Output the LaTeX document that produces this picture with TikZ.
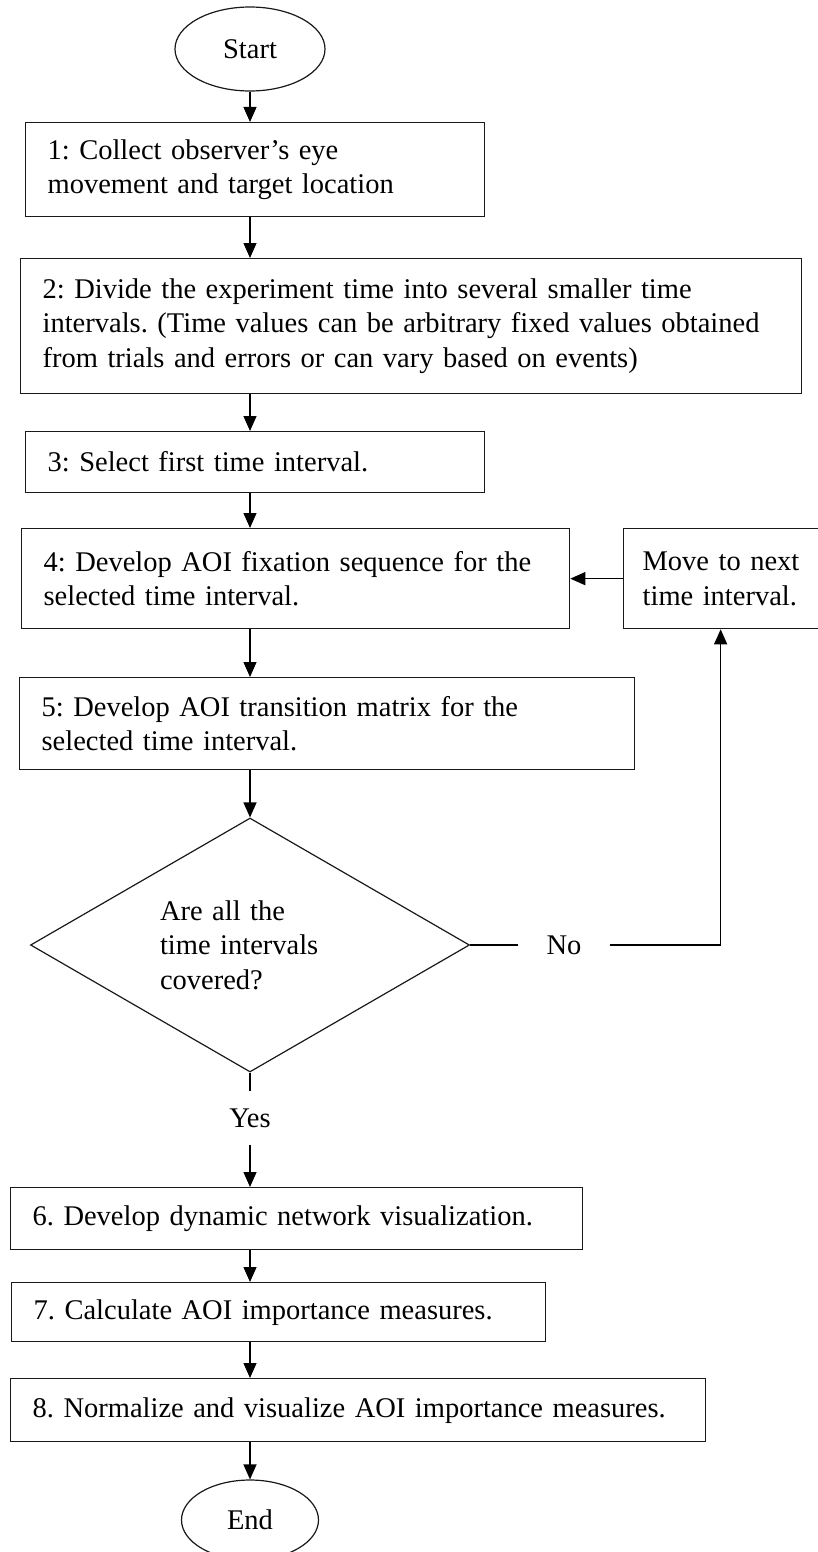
\documentclass[tikz,border=0pt]{standalone}
\usepackage{fontspec}
\setmainfont{Liberation Serif}
\usetikzlibrary{arrows.meta, shapes.geometric}
\tikzset{
  stepbox/.style = {draw=black!90, line width=1.3pt, align=left, inner xsep=22pt,
                    inner ysep=0pt, anchor=north west},
  term/.style    = {draw=black!90, line width=1.2pt, ellipse, inner sep=0pt},
  decide/.style  = {draw=black!90, line width=1.2pt, diamond, aspect=1.73, inner sep=0pt,
                    align=left, text width=180pt, minimum width=439pt, minimum height=254pt},
  arr/.style     = {-{Triangle[length=15pt, width=13pt]}, line width=1.2pt},
  lab/.style     = {inner xsep=28pt, inner ysep=17pt},
}
\frenchspacing
\hyphenpenalty=10000
\exhyphenpenalty=10000

\begin{document}
\begin{tikzpicture}[x=1pt, y=-1pt, font=\fontsize{28.5}{34.5}\selectfont]
  \useasboundingbox (0,0) rectangle (817,1552);

  \node[term, minimum width=150pt, minimum height=84pt] (start) at (250,49) {Start};
  \node[stepbox, text width=415pt, minimum height=94pt] (s1) at (25,122)
    {1: Collect observer’s eye\\movement and target location};
  \node[stepbox, text width=737pt, minimum height=135pt] (s2) at (20,258)
    {2: Divide the experiment time into several smaller time\\intervals. (Time values can be arbitrary fixed values obtained\\from trials and errors or can vary based on events)};
  \node[stepbox, text width=415pt, minimum height=61pt] (s3) at (25,431)
    {3: Select first time interval.};
  \node[stepbox, text width=504pt, minimum height=100pt] (s4) at (21,528)
    {4: Develop AOI fixation sequence for the\\selected time interval.};
  \node[stepbox, inner xsep=19pt, text width=164pt, minimum height=100pt] (move) at (623,528)
    {Move to next\\time interval.};
  \node[stepbox, text width=571pt, minimum height=92pt] (s5) at (19,677)
    {5: Develop AOI transition matrix for the\\selected time interval.};
  \node[decide] (dec) at (250,945) {Are all the\\time intervals\\covered?};
  \node[lab] (no) at (564,945) {No};
  \node[lab] (yes) at (250,1118) {Yes};
  \node[stepbox, text width=528pt, minimum height=62pt] (s6) at (10,1187)
    {6. Develop dynamic network visualization.};
  \node[stepbox, text width=490pt, minimum height=59pt] (s7) at (11,1282)
    {7. Calculate AOI importance measures.};
  \node[stepbox, text width=651pt, minimum height=63pt] (s8) at (10,1378)
    {8. Normalize and visualize AOI importance measures.};
  \node[term, minimum width=137pt, minimum height=80pt] (end) at (250,1520) {End};

  \draw[arr] (start) -- (start |- s1.north);
  \draw[arr] (start |- s1.south) -- (start |- s2.north);
  \draw[arr] (start |- s2.south) -- (start |- s3.north);
  \draw[arr] (start |- s3.south) -- (start |- s4.north);
  \draw[arr] (start |- s4.south) -- (start |- s5.north);
  \draw[arr] (start |- s5.south) -- (dec);
  \draw[line width=1.2pt] (dec) -- (no);
  \draw[arr] (no) -| ([xshift=-4pt]move.south);
  \draw[arr] (move) -- (move -| s4.east);
  \draw[line width=1.2pt] (dec) -- (yes);
  \draw[arr] (yes) -- (start |- s6.north);
  \draw[arr] (start |- s6.south) -- (start |- s7.north);
  \draw[arr] (start |- s7.south) -- (start |- s8.north);
  \draw[arr] (start |- s8.south) -- (end);
\end{tikzpicture}
\end{document}
